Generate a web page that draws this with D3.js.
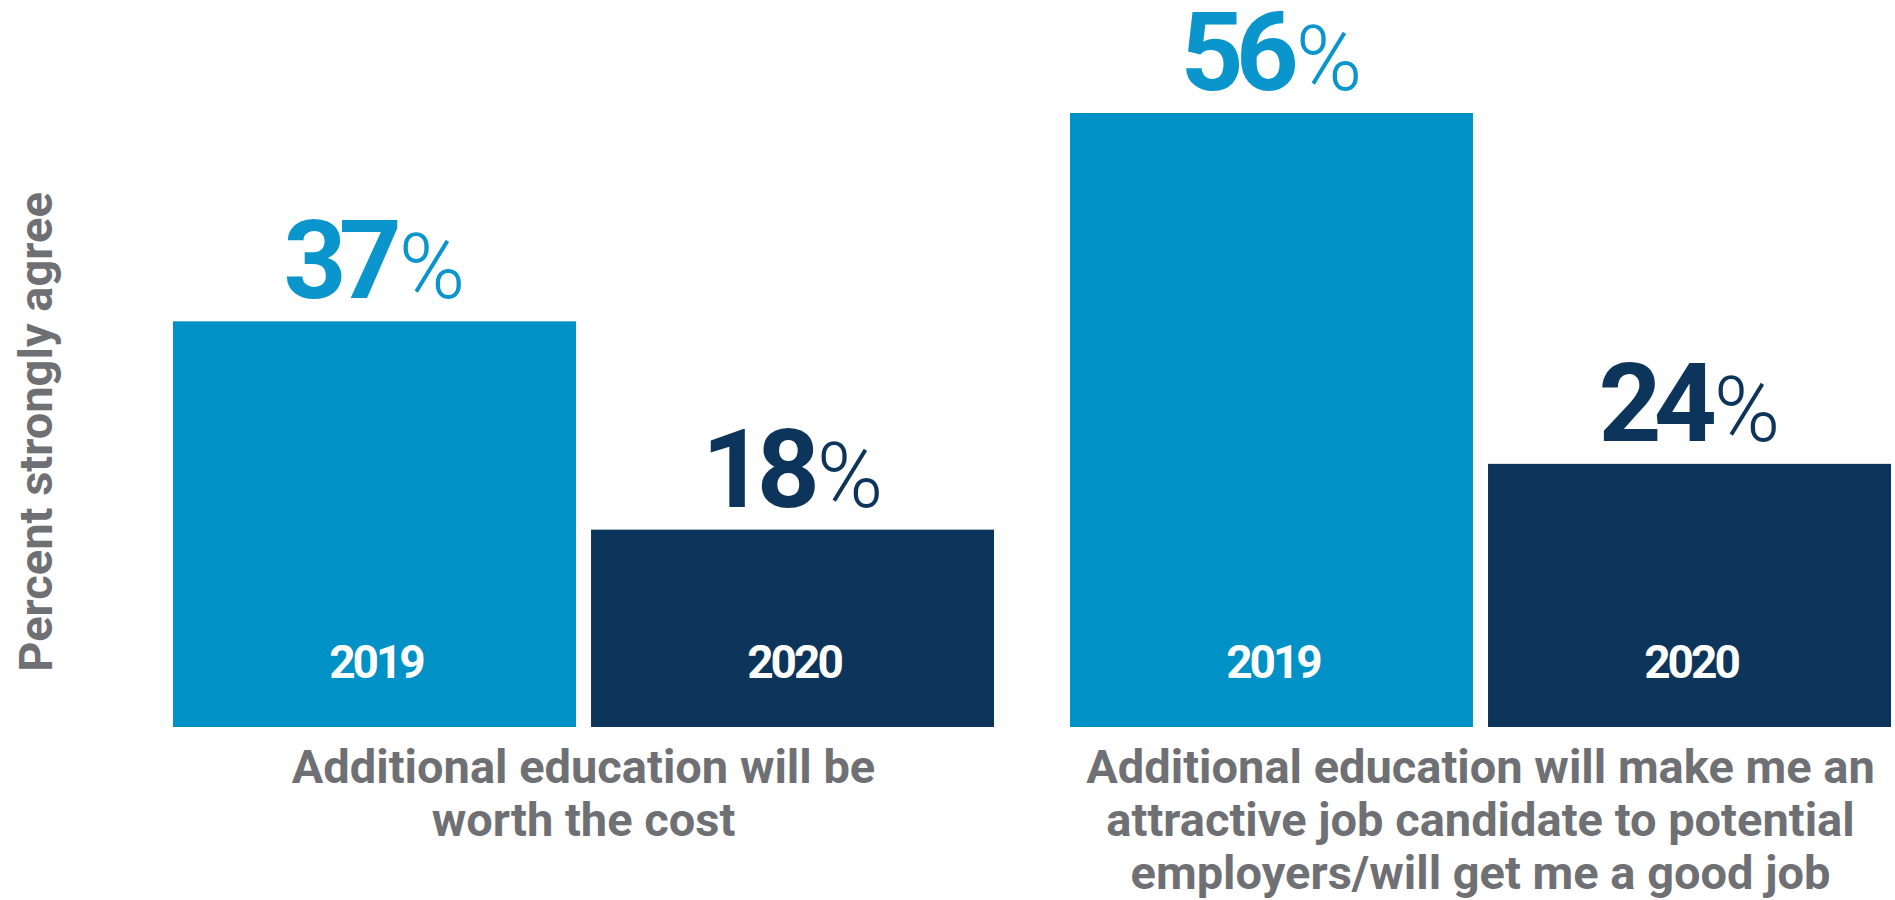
<!DOCTYPE html>
<html>
<head>
<meta charset="utf-8">
<script src="https://cdn.jsdelivr.net/npm/d3@7"></script>
<style>
  html, body { margin: 0; padding: 0; background: #ffffff; }
  svg { display: block; }
</style>
</head>
<body>
<svg id="chart" width="1895" height="900"></svg>
<script>
// ---- data ----
const groups = ["g1", "g2"];
const groupLabels = [
  ["Additional education will be", "worth the cost"],
  ["Additional education will make me an", "attractive job candidate to potential", "employers/will get me a good job"]
];
const years = ["2019", "2020"];
const values2019 = [37, 56];
const values2020 = [18, 24];
const yTitle = "Percent strongly agree";

// ---- style ----
const colors = { "2019": "#0091c6", "2020": "#0d355b" };
const labelColors = { "2019": "#0a96cc", "2020": "#0d355b" };
const gray = "#6f7074";

const svg = d3.select("#chart");

const x0 = d3.scaleBand().domain(groups).range([173, 1891]).paddingInner(0.0847).paddingOuter(0);
const x1 = d3.scaleBand().domain(years).range([0, x0.bandwidth()]).paddingInner(0.036).paddingOuter(0);
const y = d3.scaleLinear().domain([0, 56]).range([727, 113]);

const data = [];
groups.forEach((g, i) => {
  data.push({ group: g, year: "2019", value: values2019[i] });
  data.push({ group: g, year: "2020", value: values2020[i] });
});

// bars
svg.append("g").selectAll("rect")
  .data(data)
  .join("rect")
  .attr("x", d => x0(d.group) + x1(d.year))
  .attr("y", d => y(d.value))
  .attr("width", x1.bandwidth())
  .attr("height", d => y(0) - y(d.value))
  .attr("fill", d => colors[d.year]);

// value labels
const vl = svg.append("g").selectAll("text")
  .data(data)
  .join("text")
  .attr("x", d => x0(d.group) + x1(d.year) + x1.bandwidth() / 2)
  .attr("y", d => y(d.value) - 23)
  .attr("text-anchor", "middle")
  .attr("fill", d => labelColors[d.year])
  .style("font-family", "Roboto, 'Liberation Sans', sans-serif");
vl.append("tspan")
  .text(d => d.value)
  .style("font-size", "110px")
  .style("font-weight", 700)
  .style("letter-spacing", "-8px");
vl.append("tspan")
  .attr("dx", 5)
  .text("%")
  .style("font-size", "90px")
  .style("font-weight", 300);

// year labels inside bars
svg.append("g").selectAll("text")
  .data(data)
  .join("text")
  .attr("x", d => x0(d.group) + x1(d.year) + x1.bandwidth() / 2 + 1.5)
  .attr("y", y(0) - 49)
  .attr("text-anchor", "middle")
  .attr("fill", "#ffffff")
  .style("font-family", "Roboto, sans-serif")
  .style("font-size", "46px")
  .style("font-weight", 700)
  .style("letter-spacing", "-3px")
  .text(d => d.year);

// category labels
const cat = svg.append("g").selectAll("text")
  .data(groups)
  .join("text")
  .attr("x", g => x0(g) + x0.bandwidth() / 2)
  .attr("y", 783)
  .attr("text-anchor", "middle")
  .attr("fill", gray)
  .style("font-family", "Roboto, sans-serif")
  .style("font-size", "47px")
  .style("font-weight", 700);
cat.selectAll("tspan")
  .data((g, i) => groupLabels[i].map(t => ({ t, gx: x0(g) + x0.bandwidth() / 2 })))
  .join("tspan")
  .attr("x", d => d.gx)
  .attr("dy", (d, i) => i === 0 ? 0 : 53)
  .text(d => d.t);

// y-axis title
svg.append("text")
  .attr("transform", "translate(52," + 432 + ") rotate(-90)")
  .attr("text-anchor", "middle")
  .attr("fill", gray)
  .style("font-family", "Roboto, sans-serif")
  .style("font-size", "47px")
  .style("font-weight", 700)
  .text(yTitle);
</script>
</body>
</html>
